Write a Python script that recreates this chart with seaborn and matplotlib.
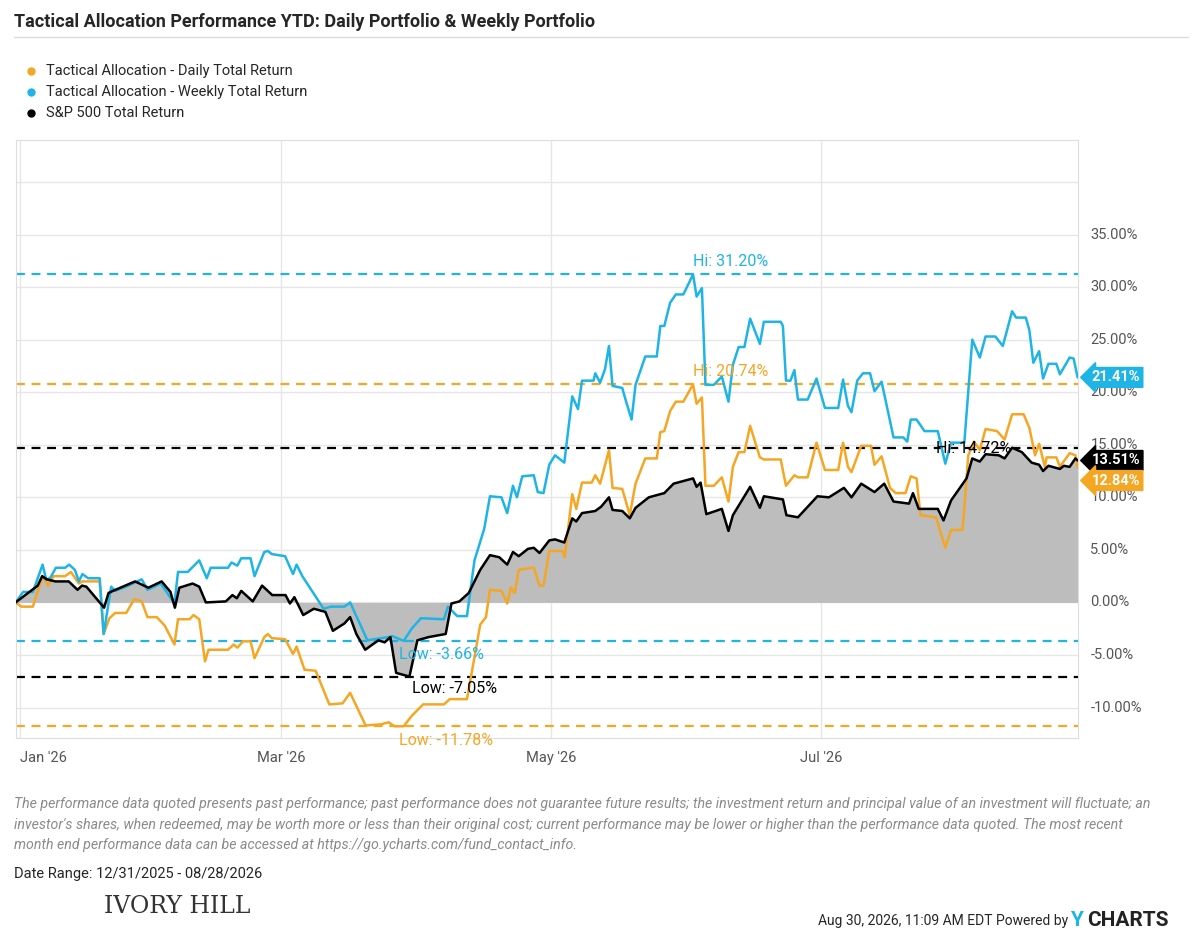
import numpy as np
import pandas as pd
import matplotlib
matplotlib.use("Agg")
import matplotlib.pyplot as plt
import seaborn as sns

# days since 12/31/2025, total return in %
sp_days = [0, 5, 6, 7, 9, 12, 14, 15, 16, 20, 21, 22, 27, 28, 30, 33, 35, 36, 37, 40, 41.5, 43, 47.5,
           49, 50, 51, 53.6, 55.7, 58, 61, 62, 63, 65, 67.4, 70, 71.7, 74.3, 75.6, 77, 79, 82, 83.4, 84.7,
           86, 89, 90.8, 93.3, 97.2, 98.5, 100.3, 102.4, 105, 107.2, 109.3, 111.1, 112.4, 113.7, 115.8,
           117.1, 118.4, 120.6, 121.9, 124, 125.8, 126.7, 128, 131, 132.3, 134.1, 134.9, 137.1, 138.8,
           140.1, 143.1, 145.7, 146.6, 148.7, 153.1, 153.9, 154.8, 156.1, 159.6, 161.1, 162.1, 166, 168.2,
           169.1, 173.4, 174.2, 176.8, 181.2, 183.8, 187.2, 188.9, 191.1, 194.1, 196.3, 198.4, 201.9,
           202.8, 204.1, 208.4, 209.7, 211.4, 214.9, 216.2, 217.9, 219.2, 222.2, 223.5, 225.2, 227.4,
           229.6, 231.3, 232.2, 233.4, 236, 236.9, 238.2, 239.5, 240]
sp_vals = [0, 1.6, 2.5, 2.2, 2.0, 2.0, 1.2, 1.6, 1.5, -0.5, 0.9, 1.1, 2.0, 1.8, 1.4, 2.0, 1.0, -0.5, 1.4,
           1.8, 1.5, 0.0, 0.1, 0.7, 0.4, 1.1, 0.1, 1.6, 0.7, 0.7, -0.1, 0.5, -1.2, -0.6, -0.9, -2.7, -2.0,
           -1.4, -3.0, -4.5, -3.6, -3.8, -3.3, -6.7, -7.05, -3.6, -3.3, -3.0, -0.1, 0.1, 0.9, 3.1, 4.5,
           4.3, 3.6, 4.8, 4.4, 5.1, 5.2, 4.7, 5.9, 6.0, 5.7, 8.0, 7.7, 8.5, 8.7, 9.1, 10.0, 8.8, 8.7,
           8.0, 9.0, 10.0, 10.3, 10.4, 11.3, 11.8, 11.0, 11.4, 8.4, 8.9, 6.8, 8.3, 11.0, 9.0, 10.1, 9.8,
           8.3, 8.1, 10.1, 10.0, 10.9, 10.0, 11.3, 10.5, 11.3, 9.6, 9.4, 10.4, 8.9, 8.9, 7.8, 9.7, 11.8,
           13.7, 13.4, 14.1, 14.0, 13.7, 14.72, 14.3, 13.3, 13.1, 12.5, 13.0, 12.7, 13.0, 12.9, 13.7, 13.51]

wk_days = [0, 1.7, 3.9, 6.1, 6.9, 7.8, 9.1, 11.2, 12.1, 13.4, 14.3, 15.1, 16.4, 19, 19.9, 21.6, 22.5, 25,
           28.5, 29.8, 32.8, 35.9, 36.7, 38.9, 41.5, 43.2, 44.1, 48, 48.8, 50.1, 51, 53.1, 54, 56.2, 57,
           57.9, 60.9, 62.7, 63.5, 64.8, 69.6, 71.3, 74.3, 75.6, 76.9, 79.5, 82.5, 84.2, 85.1, 87.7, 89.5,
           91.6, 96.8, 97.7, 99.8, 102, 103.7, 105.9, 107.2, 109.8, 111.1, 112.4, 113.3, 114.5, 117.1,
           118, 119.3, 120.6, 121.9, 124, 125.8, 127.1, 128, 130.6, 131, 132.1, 133.2, 134.1, 134.9,
           137.1, 137.9, 139.2, 140.1, 142.3, 144.9, 145.7, 146.6, 147.9, 149.2, 150.9, 153.1, 153.9,
           155.1, 155.9, 157.8, 159.6, 161.1, 162.1, 163.4, 164.7, 166, 168.2, 169.1, 172.9, 173.4,
           174.1, 175.1, 176, 176.8, 179, 181, 182.9, 185.9, 187, 188.1, 188.9, 190.2, 191.5, 193.1,
           194.1, 195.7, 198.4, 200.6, 201.5, 202.3, 203.6, 205.4, 208.4, 210.1, 211.4, 214.4, 216.2,
           217.9, 219.2, 221.4, 223.1, 225.2, 226.1, 228.3, 229.1, 230, 231.3, 232.2, 233.4, 235.2, 236,
           238.2, 239.1, 240]
wk_vals = [0, 1.0, 1.0, 3.6, 2.2, 2.3, 3.3, 3.3, 3.6, 3.1, 2.0, 2.7, 2.3, 2.3, -3.0, 1.5, 1.1, 1.5, 2.2,
           1.2, 1.8, -0.1, 2.9, 2.9, 4.0, 2.3, 3.3, 3.3, 3.8, 3.5, 4.2, 4.2, 2.5, 4.8, 4.9, 4.6, 4.4, 2.7,
           3.6, 2.5, -0.6, -0.4, -0.4, 0.0, -1.2, -3.6, -3.4, -3.3, -3.2, -3.66, -2.5, -1.5, -1.6, -0.4,
           -1.3, -1.3, 4.0, 7.0, 10.1, 10.0, 8.5, 11.1, 10.0, 12.0, 12.1, 10.5, 10.4, 13.1, 14.0, 13.3,
           19.6, 18.4, 21.1, 21.1, 21.8, 20.9, 22.2, 24.4, 20.6, 20.4, 19.2, 17.4, 20.7, 23.4, 23.4,
           26.3, 26.3, 28.5, 29.3, 29.3, 31.2, 29.1, 29.9, 20.7, 20.7, 21.5, 19.1, 22.6, 24.3, 24.3,
           27.0, 24.6, 26.7, 26.7, 26.3, 21.1, 21.1, 22.1, 19.3, 19.3, 21.3, 18.5, 18.5, 21.2, 18.7,
           18.1, 21.1, 21.8, 21.8, 20.1, 21.0, 15.7, 15.7, 15.3, 17.4, 17.4, 16.3, 16.3, 13.2, 15.2,
           15.2, 25.0, 23.3, 25.3, 25.3, 24.4, 27.7, 27.1, 27.1, 25.9, 22.8, 23.9, 21.3, 22.7, 22.7,
           21.7, 23.3, 23.2, 21.41]

dl_days = [0, 1.3, 3.9, 6.1, 7.3, 8.6, 11.2, 12.5, 14.3, 15.1, 19, 19.9, 21.2, 22.5, 25, 26.8, 28.5, 29.8,
           31.9, 33.7, 35.9, 36.7, 39.3, 40.2, 41.5, 42.8, 43.6, 48, 49.3, 50.1, 51.4, 53.1, 54, 56.2, 57,
           57.9, 60.9, 62.7, 63.5, 65.3, 67.8, 70.9, 73.9, 75.6, 79.1, 82.5, 84.3, 85.6, 87.7, 89.5,
           92.1, 96.8, 98.1, 102, 102.9, 105, 106.3, 107.2, 109.8, 111.1, 111.9, 112.8, 113.7, 116.7,
           117.1, 118.4, 119.3, 120.6, 123.6, 124.1, 125.8, 126.7, 128, 130.2, 131, 132.1, 134.1, 134.9,
           137.1, 138.8, 140.1, 142.3, 144.9, 145.7, 146.6, 147.9, 149.2, 150.9, 153.1, 153.9, 155.1,
           155.9, 157.8, 159.6, 161.1, 162.1, 163.4, 164.7, 166, 168.2, 169.1, 172.9, 174.1, 176, 176.8,
           179, 181, 182.9, 185.9, 187, 188.1, 188.9, 191.1, 193.3, 194.1, 195.7, 197.6, 198.9, 201.1,
           202.3, 203.6, 204.5, 208, 210.1, 211.4, 214, 215.3, 216.6, 217.9, 219.2, 221.8, 223.5, 225.2,
           227.8, 229.1, 230.4, 231.3, 232.6, 233, 235.2, 236, 238.2, 239.5, 240]
dl_vals = [0, -0.4, -0.4, 2.5, 1.6, 2.5, 2.5, 2.9, 1.8, 2.0, 2.0, -3.0, -1.5, -1.0, -1.0, 0.3, 0.1, -1.4,
           -1.4, -2.2, -4.0, -1.6, -1.6, -1.2, -1.6, -5.6, -4.5, -4.5, -4.0, -4.3, -3.7, -3.7, -5.3, -3.3,
           -3.0, -3.4, -3.5, -4.9, -4.2, -6.4, -6.5, -9.7, -9.6, -8.6, -11.7, -11.6, -11.4, -11.78, -11.78,
           -10.8, -9.7, -9.7, -9.2, -9.2, -7.1, -2.1, -1.4, 1.2, 1.1, -0.1, 1.4, 0.9, 3.1, 3.3, 3.3, 1.6,
           1.6, 4.9, 4.9, 4.3, 10.3, 8.9, 11.4, 11.4, 12.1, 11.3, 14.5, 10.9, 10.8, 8.3, 11.3, 13.7,
           13.7, 16.2, 16.3, 18.2, 19.1, 19.1, 20.74, 18.9, 19.5, 11.1, 11.1, 11.9, 9.6, 12.9, 14.3,
           14.3, 16.8, 13.8, 13.6, 13.6, 11.1, 12.1, 11.9, 11.9, 15.2, 12.6, 12.6, 15.2, 12.9, 12.4,
           14.9, 14.9, 13.1, 13.9, 10.9, 10.4, 10.4, 12.0, 11.8, 8.3, 8.1, 5.2, 6.9, 6.9, 14.0, 15.3,
           14.5, 16.5, 16.3, 15.5, 17.9, 17.9, 16.6, 14.0, 15.1, 12.9, 13.8, 13.8, 12.9, 14.2, 14.0, 12.84]

series_names = ["Tactical Allocation - Daily Total Return",
                "Tactical Allocation - Weekly Total Return",
                "S&P 500 Total Return"]
hi_lo = {"daily": (20.74, -11.78), "weekly": (31.20, -3.66), "sp": (14.72, -7.05)}
last_vals = {"weekly": 21.41, "sp": 13.51, "daily": 12.84}
month_ticks = [1, 60, 121, 182]
month_labels = ["Jan '26", "Mar '26", "May '26", "Jul '26"]
y_ticks = [-10, -5, 0, 5, 10, 15, 20, 25, 30, 35]

ORANGE = "#f5a623"
BLUE = "#1eb4e6"
BLACK = "#000000"
GRAY = "#8a8a8a"

sns.set_style("white")
plt.rcParams["font.family"] = ["Roboto", "DejaVu Sans"]

df = pd.concat([
    pd.DataFrame({"day": dl_days, "ret": dl_vals, "series": series_names[0]}),
    pd.DataFrame({"day": wk_days, "ret": wk_vals, "series": series_names[1]}),
    pd.DataFrame({"day": sp_days, "ret": sp_vals, "series": series_names[2]}),
])

fig = plt.figure(figsize=(12, 9.36), dpi=100)
ax = fig.add_axes([0.013, 0.2115, 0.885, 0.639])

ax.fill_between(sp_days, sp_vals, 0, color="#bdbdbd", lw=0, zorder=1)
palette = {series_names[0]: ORANGE, series_names[1]: BLUE, series_names[2]: BLACK}
sns.lineplot(data=df, x="day", y="ret", hue="series", palette=palette, linewidth=1.8,
             legend=False, ax=ax, zorder=3, estimator=None, sort=False)

# hi / low dashed lines
for key, col in [("weekly", BLUE), ("daily", ORANGE), ("sp", BLACK)]:
    for v in hi_lo[key]:
        ax.axhline(v, color=col, ls=(0, (4, 3)), lw=1.6, zorder=2)

fs = 11.5
ax.text(153, 31.2 + 0.5, "Hi: 31.20%", color=BLUE, fontsize=fs, ha="left", va="bottom")
ax.text(153, 20.74 + 0.5, "Hi: 20.74%", color=ORANGE, fontsize=fs, ha="left", va="bottom")
ax.text(208, 14.72 - 0.8, "Hi: 14.72%", color=BLACK, fontsize=fs, ha="left", va="bottom")
ax.text(86.7, -3.66 - 0.6, "Low: -3.66%", color=BLUE, fontsize=fs, ha="left", va="top")
ax.text(89.6, -7.05 - 0.4, "Low: -7.05%", color=BLACK, fontsize=fs, ha="left", va="top")
ax.text(86.7, -11.78 - 0.6, "Low: -11.78%", color=ORANGE, fontsize=fs, ha="left", va="top",
        clip_on=False)

ax.set_xlim(0, 240)
ax.set_ylim(-12.9, 44)
ax.set_yticks(np.arange(-10, 45, 5))
ax.set_yticklabels([])
ax.set_xticks(month_ticks)
ax.set_xticklabels([])
ax.grid(True, color="#e6e6e6", lw=1)
ax.tick_params(length=0)
for s in ax.spines.values():
    s.set_color("#dddddd")
ax.set_xlabel("")
ax.set_ylabel("")

for t in y_ticks:
    ax.text(1.012, t, f"{t:.2f}%", transform=ax.get_yaxis_transform(), color="#555555",
            fontsize=10.5, va="center", ha="left")
for d, lab in zip(month_ticks, month_labels):
    ax.text(d, -0.022, lab, transform=ax.get_xaxis_transform(), color="#555555", fontsize=10.5,
            ha="center" if d > 5 else "left", va="top")

# end-value tags
for key, col, ypos in [("weekly", BLUE, 21.41), ("sp", BLACK, 13.51), ("daily", ORANGE, 11.6)]:
    ax.text(1.013, ypos, f"{last_vals[key]:.2f}%", transform=ax.get_yaxis_transform(),
            color="white", fontsize=10.5, fontweight="bold", va="center", ha="left",
            bbox=dict(boxstyle="larrow,pad=0.2", fc=col, ec=col))

# title and legend
fig.text(0.012, 0.977, "Tactical Allocation Performance YTD: Daily Portfolio & Weekly Portfolio",
         fontsize=13, fontweight="bold", va="center")
fig.add_artist(plt.Line2D([0.012, 0.99], [0.96, 0.96], color="#dddddd", lw=1))
for i, (name, col) in enumerate(zip(series_names, [ORANGE, BLUE, BLACK])):
    yy = 0.924 - i * 0.0225
    fig.add_artist(plt.Line2D([0.0255], [yy], marker="o", ms=5, color=col))
    fig.text(0.038, yy, name, fontsize=10.5, va="center")

# footer
foot = ("The performance data quoted presents past performance; past performance does not guarantee future results; the investment return and principal value of an investment will fluctuate; an\n"
        "investor's shares, when redeemed, may be worth more or less than their original cost; current performance may be lower or higher than the performance data quoted. The most recent\n"
        "month end performance data can be accessed at https://go.ycharts.com/fund_contact_info.")
fig.text(0.012, 0.148, foot, fontsize=10.2, style="italic", color=GRAY, va="top", linespacing=1.55,
         fontstretch="condensed")
fig.text(0.012, 0.066, "Date Range: 12/31/2025 - 08/28/2026", fontsize=10.5, va="center")
fig.text(0.087, 0.031, "IVORY HILL", fontsize=17, family="DejaVu Serif", color="#333333", va="center")
fig.text(0.89, 0.0165, "Aug 30, 2026, 11:09 AM EDT Powered by", fontsize=10, va="center", ha="right")
fig.text(0.892, 0.0165, "Y", fontsize=15, fontweight="bold", color=BLUE, va="center", ha="left")
fig.text(0.906, 0.0165, "CHARTS", fontsize=15, fontweight="bold", color="#222222", va="center", ha="left")

fig.savefig("out.png", dpi=100)
